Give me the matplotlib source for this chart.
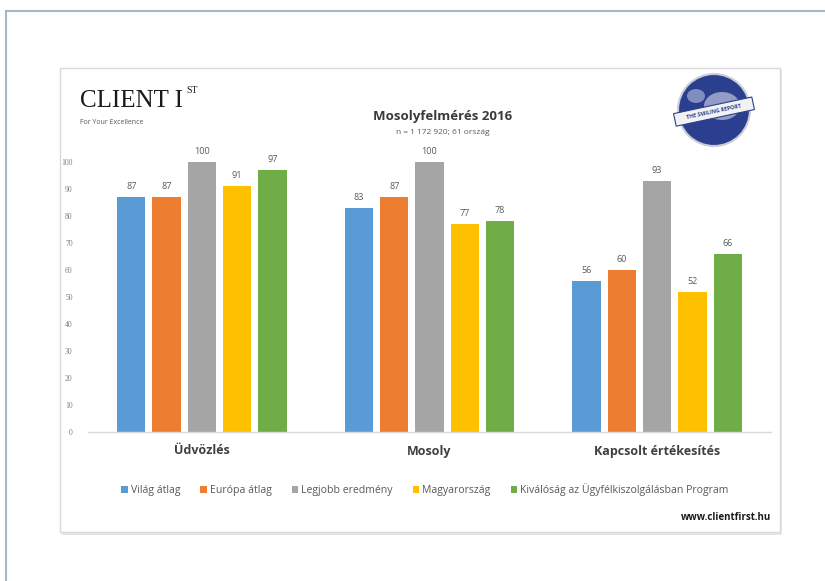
import matplotlib.pyplot as plt
import matplotlib.patches as patches
import numpy as np

# adatok
kategoriak = ["Üdvözlés", "Mosoly", "Kapcsolt értékesítés"]
sorozatok = ["Világ átlag", "Európa átlag", "Legjobb eredmény", "Magyarország",
             "Kiválóság az Ügyfélkiszolgálásban Program"]
vilag = [87, 83, 56]
europa = [87, 87, 60]
legjobb = [100, 100, 93]
magyar = [91, 77, 52]
kivalosag = [97, 78, 66]
y_ticks = [0, 10, 20, 30, 40, 50, 60, 70, 80, 90, 100]

szinek = ["#5B9BD5", "#ED7D31", "#A5A5A5", "#FFC000", "#70AD47"]

plt.rcParams['font.family'] = ['Open Sans', 'DejaVu Sans']

W, H = 825, 581
fig = plt.figure(figsize=(W / 100, H / 100), dpi=100)

def fx(px):
    return px / W

def fy(py):
    return 1 - py / H

# kulso keret
fig.patches.append(patches.Rectangle((fx(6), fy(600)), fx(830) - fx(6), fy(11) - fy(600),
                                     transform=fig.transFigure, fill=False,
                                     edgecolor="#a7b6c4", linewidth=1.5, zorder=-1))
# kartya arnyek + kartya
fig.patches.append(patches.Rectangle((fx(62), fy(535)), fx(782) - fx(62), fy(70) - fy(535),
                                     transform=fig.transFigure, facecolor="#e6e6e6",
                                     edgecolor="none", zorder=-3))
fig.patches.append(patches.Rectangle((fx(60), fy(532)), fx(780) - fx(60), fy(68) - fy(532),
                                     transform=fig.transFigure, facecolor="white",
                                     edgecolor="#d9d9d9", linewidth=1, zorder=-2))

ax = fig.add_axes([fx(88), fy(432), fx(771) - fx(88), fy(162) - fy(432)])
ax.set_facecolor("none")

x = np.arange(len(kategoriak))
adatok = [vilag, europa, legjobb, magyar, kivalosag]
lepes = 0.155
szel = 0.124
for i, (nev, ertekek) in enumerate(zip(sorozatok, adatok)):
    pos = x + (i - 2) * lepes
    ax.bar(pos, ertekek, width=szel, color=szinek[i], label=nev, zorder=2)
    for p, v in zip(pos, ertekek):
        ax.text(p, v + 2.2, str(v), ha="center", va="bottom", fontsize=6.5,
                color="#595959", clip_on=False)

ax.set_xlim(-0.5, 2.5)
ax.set_ylim(0, 100)
ax.set_yticks(y_ticks)
ax.set_yticklabels([str(t) for t in y_ticks], fontsize=5.5, color="#7f7f7f",
                   family=['Liberation Serif'])
ax.tick_params(axis="y", length=0, pad=11)
ax.set_xticks(x)
ax.set_xticklabels(kategoriak, fontsize=9, fontweight="bold", color="#404040")
ax.tick_params(axis="x", length=0, pad=9)
for s in ["top", "right", "left"]:
    ax.spines[s].set_visible(False)
ax.spines["bottom"].set_color("#d9d9d9")
ax.spines["bottom"].set_linewidth(1)

# cim
fig.text(fx(443), fy(117), "Mosolyfelmérés 2016", ha="center", va="center",
         fontsize=9.5, fontweight="bold", color="#3a3a3a")
fig.text(fx(443), fy(133), "n = 1 172 920; 61 ország", ha="center", va="center",
         fontsize=6, color="#595959")

# logo bal
fig.text(fx(80), fy(101), "CLIENT I", ha="left", va="center", fontsize=18,
         family="Liberation Serif", color="#1a1a1a")
fig.text(fx(186), fy(91), "ST", ha="left", va="center", fontsize=7,
         family="Liberation Serif", color="#1a1a1a")
fig.text(fx(80), fy(123), "For Your Excellence", ha="left", va="center",
         fontsize=5, color="#595959")

# glob logo jobb
glob = fig.add_axes([fx(670), fy(152), fx(758) - fx(670), fy(68) - fy(152)])
glob.set_xlim(-1.05, 1.05)
glob.set_ylim(-1.05, 1.05)
glob.set_aspect("equal")
glob.axis("off")
glob.add_patch(patches.Circle((0, 0), 0.9, facecolor="#2b3f8f", edgecolor="#c9cdd8", linewidth=1.5))
glob.add_patch(patches.Ellipse((0.2, 0.1), 0.9, 0.7, facecolor="#d8dcea", edgecolor="none", alpha=0.6))
glob.add_patch(patches.Ellipse((-0.45, 0.35), 0.45, 0.35, facecolor="#d8dcea", edgecolor="none", alpha=0.5))
glob.add_patch(patches.Rectangle((-1.0, -0.2), 2.0, 0.32, angle=12, rotation_point="center",
                                 facecolor="#f2f2f2", edgecolor="#2b3f8f", linewidth=0.8))
glob.text(0, -0.04, "THE SMILING REPORT", ha="center", va="center", fontsize=3.8,
          fontweight="bold", color="#2b3f8f", rotation=12)

# jelmagyarazat
leg = fig.legend(loc="center", bbox_to_anchor=(fx(425), fy(490)), ncol=5, frameon=False,
                 fontsize=7.6, handlelength=0.6, handleheight=0.6, handletextpad=0.3,
                 columnspacing=1.9)
for t in leg.get_texts():
    t.set_color("#595959")

fig.text(fx(771), fy(517), "www.clientfirst.hu", ha="right", va="center",
         fontsize=7, fontweight="bold", color="#1a1a1a")

fig.savefig("out.png", dpi=100)
